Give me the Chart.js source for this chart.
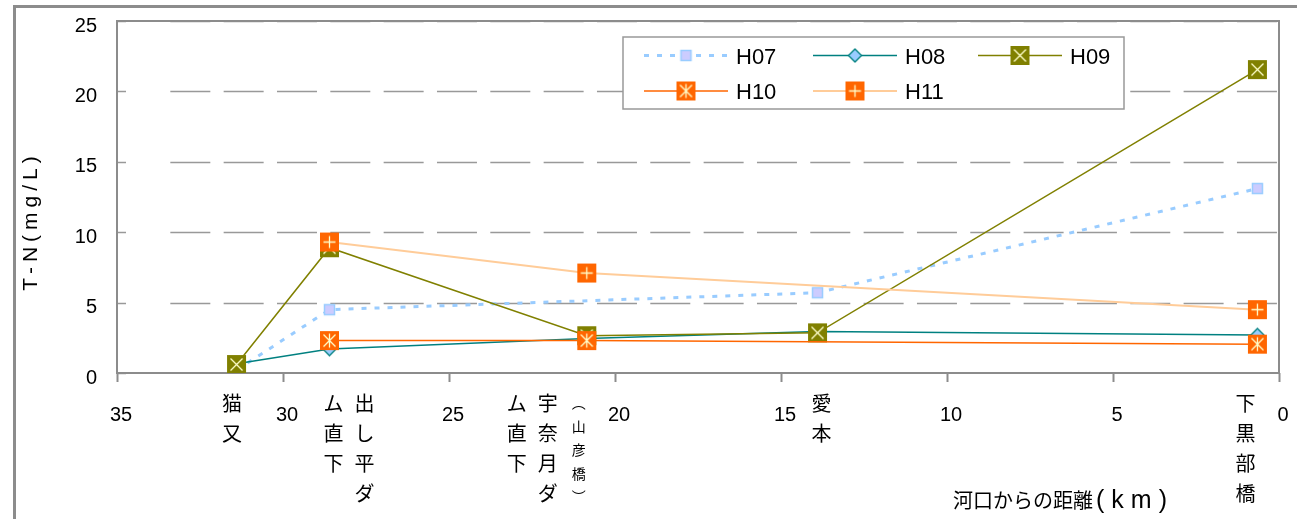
<!DOCTYPE html>
<html lang="ja">
<head>
<meta charset="utf-8">
<title>T-N 流下方向変化</title>
<script src="https://cdn.jsdelivr.net/npm/chart.js@4.4.1/dist/chart.umd.min.js"></script>
<style>
  html, body { margin: 0; padding: 0; background: #fff; }
  #wrap { width: 1297px; height: 519px; }
</style>
</head>
<body>
<div id="wrap"><canvas id="c" width="1297" height="519"></canvas></div>
<script>
// 地点名と河口からの距離 (km)
const stationNames = ['猫又', '出し平ダム直下', '宇奈月ダム直下（山彦橋）', '愛本', '下黒部橋'];
const stationKm = [31.4, 28.6, 20.85, 13.9, 0.65];

// 年度別 T-N (mg/L)、null は欠測
const seriesNames = ['H07', 'H08', 'H09', 'H10', 'H11'];
const tnH07 = [0.2, 4.5, null, 5.7, 13.1];
const tnH08 = [0.65, 1.7, 2.45, 2.95, 2.7];
const tnH09 = [0.6, 8.9, 2.65, 2.85, 21.55];
const tnH10 = [null, 2.3, 2.3, null, 2.05];
const tnH11 = [null, 9.3, 7.1, null, 4.5];

// 軸の目盛
const xTickValues = [35, 30, 25, 20, 15, 10, 5, 0];
const yTickValues = [0, 5, 10, 15, 20, 25];

const yTitle = 'T-N(mg/L)';
const xTitleMain = '河口からの距離';
const xTitleUnit = '(km)';

const FONT = "'Liberation Sans', 'Noto Sans CJK JP', sans-serif";
const JP = "'Noto Sans CJK JP', 'Liberation Sans', sans-serif";

// マーカー画像
function makeMarker(kind) {
  const c = document.createElement('canvas');
  c.width = 21; c.height = 21;
  const g = c.getContext('2d');
  const m = 10.5;
  if (kind === 'square') {
    g.fillStyle = '#ccccff';
    g.fillRect(m - 5, m - 5, 10, 10);
    g.strokeStyle = '#99ccff'; g.lineWidth = 1.5;
    g.strokeRect(m - 5, m - 5, 10, 10);
  } else if (kind === 'diamond') {
    g.beginPath();
    g.moveTo(m, m - 6.5); g.lineTo(m + 6.5, m); g.lineTo(m, m + 6.5); g.lineTo(m - 6.5, m);
    g.closePath();
    g.fillStyle = '#99ccff'; g.fill();
    g.strokeStyle = '#008080'; g.lineWidth = 1.3; g.stroke();
  } else {
    g.fillStyle = kind === 'cross' ? '#808000' : '#ff6600';
    g.fillRect(1, 1, 19, 19);
    g.strokeStyle = '#ffffcc'; g.lineWidth = 1.3;
    g.beginPath();
    if (kind === 'cross' || kind === 'star') {
      g.moveTo(4.5, 4.5); g.lineTo(16.5, 16.5);
      g.moveTo(16.5, 4.5); g.lineTo(4.5, 16.5);
    }
    if (kind === 'star') { g.moveTo(m, 3.5); g.lineTo(m, 17.5); }
    if (kind === 'plus') {
      g.moveTo(4.5, m); g.lineTo(16.5, m);
      g.moveTo(m, 4.5); g.lineTo(m, 16.5);
    }
    g.stroke();
  }
  return c;
}

const seriesStyle = [
  { color: '#99ccff', width: 3, dash: [5, 8], marker: makeMarker('square') },
  { color: '#008080', width: 1.5, dash: [], marker: makeMarker('diamond') },
  { color: '#808000', width: 1.5, dash: [], marker: makeMarker('cross') },
  { color: '#ff6600', width: 1.5, dash: [], marker: makeMarker('star') },
  { color: '#ffcc99', width: 2, dash: [], marker: makeMarker('plus') }
];
const seriesValues = [tnH07, tnH08, tnH09, tnH10, tnH11];

const datasets = seriesNames.map((name, k) => ({
  label: name,
  data: stationKm.map((km, i) => ({ x: km, y: seriesValues[k][i] })),
  borderColor: seriesStyle[k].color,
  borderWidth: seriesStyle[k].width,
  borderDash: seriesStyle[k].dash,
  borderCapStyle: 'butt',
  pointStyle: seriesStyle[k].marker,
  pointRadius: 10,
  pointHoverRadius: 10,
  spanGaps: true,
  tension: 0,
  fill: false,
  order: seriesNames.length - k
}));

// 背景と外枠
const framePlugin = {
  id: 'frame',
  beforeDraw(chart) {
    const ctx = chart.ctx;
    ctx.save();
    ctx.fillStyle = '#fff';
    ctx.fillRect(0, 0, chart.width, chart.height);
    ctx.strokeStyle = '#8c8c8c';
    ctx.lineWidth = 3;
    ctx.beginPath();
    ctx.moveTo(13, 6.5); ctx.lineTo(chart.width, 6.5);
    ctx.moveTo(14.5, 5); ctx.lineTo(14.5, chart.height);
    ctx.stroke();
    ctx.restore();
  }
};

// 破線の目盛線・内向き目盛・プロットエリア枠
const plotAreaPlugin = {
  id: 'plotArea',
  beforeDatasetsDraw(chart) {
    const { ctx, chartArea: a, scales: { y } } = chart;
    ctx.save();
    ctx.strokeStyle = '#999';
    ctx.lineWidth = 1.5;
    const period = 53.33;
    ctx.setLineDash([40, period - 40]);
    yTickValues.forEach(v => {
      if (v === 0) return;
      const py = Math.round(y.getPixelForValue(v)) + 0.5;
      ctx.beginPath();
      ctx.moveTo(a.left + period, py);
      ctx.lineTo(a.right, py);
      ctx.stroke();
    });
    ctx.setLineDash([]);
    yTickValues.forEach(v => {
      const py = Math.round(y.getPixelForValue(v)) + 0.5;
      ctx.beginPath();
      ctx.moveTo(a.left, py);
      ctx.lineTo(a.left + 9, py);
      ctx.stroke();
    });
    ctx.strokeStyle = '#8c8c8c';
    ctx.lineWidth = 2;
    ctx.strokeRect(a.left, a.top, a.right - a.left, a.bottom - a.top);
    ctx.restore();
  }
};

// 地点名 (縦書き)、軸タイトル、凡例
function labelColumns(name) {
  const m = name.match(/^(.*?)(（.*）)?$/);
  const main = m[1], note = m[2];
  const cols = [];
  if (note) cols.push({ text: '︵' + note.slice(1, -1) + '︶', small: true });
  for (let i = 0; i < main.length; i += 4) cols.push({ text: main.slice(i, i + 4), small: false });
  return cols;
}
const stationLabelShift = [-4.5, 35, -8, 4, -12];

const legendBox = { left: 623, top: 37, right: 1124, bottom: 109 };
const legendSlots = [[644, 55.5], [813, 55.5], [978, 55.5], [644, 91], [813, 91]];

const annotatePlugin = {
  id: 'annotate',
  afterDatasetsDraw(chart) {
    const { ctx, scales: { x } } = chart;
    ctx.save();
    ctx.fillStyle = '#000';
    ctx.textAlign = 'center';
    ctx.textBaseline = 'middle';

    // 地点名
    stationNames.forEach((name, i) => {
      let cx = x.getPixelForValue(stationKm[i]) + stationLabelShift[i];
      labelColumns(name).forEach(col => {
        const chars = Array.from(col.text);
        ctx.font = (col.small ? '14px ' : '20px ') + JP;
        const step = col.small ? 23.5 : 30;
        chars.forEach((ch, j) => ctx.fillText(ch, cx, 403 + j * step));
        cx -= 31;
      });
    });

    // Y 軸タイトル
    ctx.save();
    ctx.translate(31, 221);
    ctx.rotate(-Math.PI / 2);
    ctx.font = '21px ' + FONT;
    ctx.letterSpacing = '5px';
    ctx.fillText(yTitle, 0, 0);
    ctx.restore();

    // X 軸タイトル
    ctx.textAlign = 'left';
    ctx.font = '20px ' + JP;
    const w0 = ctx.measureText(xTitleMain).width;
    const gap = Math.max(0, (137 - w0) / (Array.from(xTitleMain).length - 1));
    ctx.letterSpacing = gap + 'px';
    ctx.fillText(xTitleMain, 953, 500);
    ctx.font = '25px ' + FONT;
    ctx.letterSpacing = '7px';
    ctx.fillText(xTitleUnit, 1096, 501);
    ctx.letterSpacing = '0px';

    // 凡例
    ctx.fillStyle = '#fff';
    ctx.fillRect(legendBox.left, legendBox.top, legendBox.right - legendBox.left, legendBox.bottom - legendBox.top);
    ctx.strokeStyle = '#999';
    ctx.lineWidth = 1.5;
    ctx.strokeRect(legendBox.left, legendBox.top, legendBox.right - legendBox.left, legendBox.bottom - legendBox.top);
    seriesNames.forEach((name, k) => {
      const [lx, ly] = legendSlots[k];
      const st = seriesStyle[k];
      ctx.strokeStyle = st.color;
      ctx.lineWidth = st.width;
      ctx.setLineDash(st.dash);
      ctx.beginPath();
      ctx.moveTo(lx, ly); ctx.lineTo(lx + 84, ly);
      ctx.stroke();
      ctx.setLineDash([]);
      ctx.drawImage(st.marker, lx + 42 - 10.5, ly - 10.5);
      ctx.fillStyle = '#000';
      ctx.font = '22px ' + FONT;
      ctx.textAlign = 'left';
      ctx.fillText(name, lx + 92, ly + 2);
    });
    ctx.restore();
  }
};

new Chart(document.getElementById('c'), {
  type: 'line',
  data: { datasets },
  options: {
    responsive: false,
    animation: false,
    events: [],
    layout: { padding: { left: 0, top: 21, right: 18, bottom: 0 } },
    plugins: { legend: { display: false }, tooltip: { enabled: false } },
    scales: {
      x: {
        type: 'linear',
        position: 'bottom',
        reverse: true,
        min: 0,
        max: 35,
        afterBuildTicks: s => { s.ticks = xTickValues.map(v => ({ value: v })); },
        afterFit: s => {
          s.height = 146;
          s.paddingLeft = 0; s.paddingRight = 0;
          s.paddingTop = 0; s.paddingBottom = 0;
        },
        ticks: {
          color: '#000',
          font: { family: FONT, size: 20 },
          padding: 21,
          labelOffset: 4,
          maxRotation: 0,
          autoSkip: false
        },
        grid: {
          display: true,
          drawOnChartArea: false,
          drawTicks: true,
          tickLength: 9,
          tickColor: '#8c8c8c',
          tickWidth: 2,
          color: '#8c8c8c'
        },
        border: { display: false }
      },
      y: {
        type: 'linear',
        min: 0,
        max: 25,
        afterBuildTicks: s => { s.ticks = yTickValues.map(v => ({ value: v })); },
        afterFit: s => {
          s.width = 117;
          s.paddingLeft = 0; s.paddingRight = 0;
          s.paddingTop = 0; s.paddingBottom = 0;
        },
        ticks: {
          color: '#000',
          font: { family: FONT, size: 20 },
          padding: 20,
          labelOffset: 5
        },
        grid: { display: false, drawTicks: false },
        border: { display: false }
      }
    }
  },
  plugins: [framePlugin, plotAreaPlugin, annotatePlugin]
});
</script>
</body>
</html>
